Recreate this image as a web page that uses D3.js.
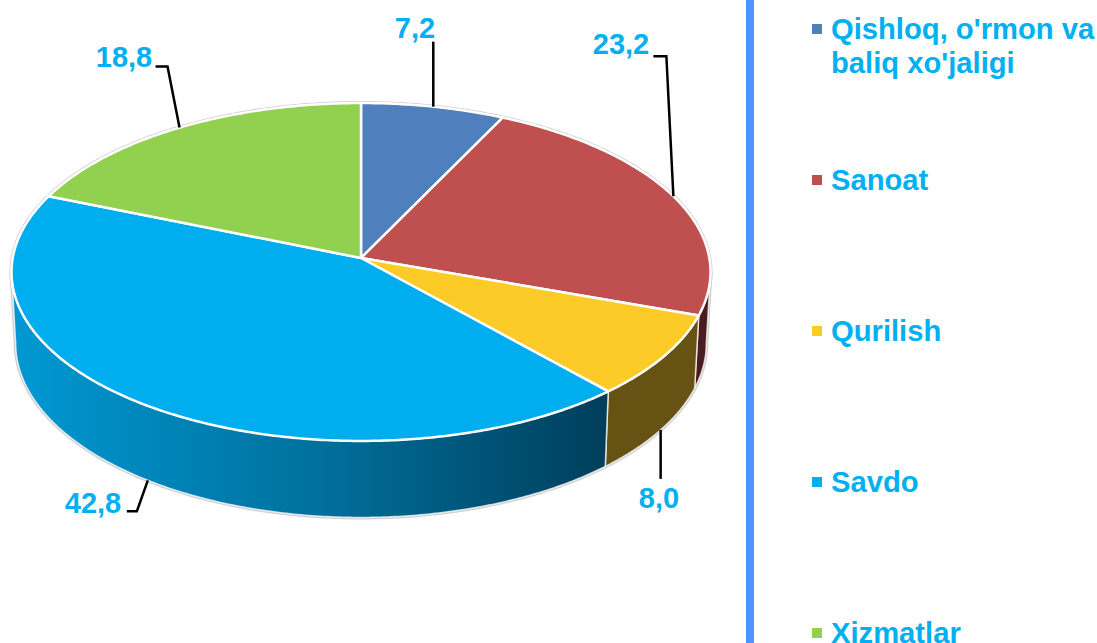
<!DOCTYPE html>
<html>
<head>
<meta charset="utf-8">
<script src="https://cdn.jsdelivr.net/npm/d3@7"></script>
<style>
html, body { margin: 0; padding: 0; background: #fff; overflow: hidden; }
text { font-family: "Liberation Sans", Arial, sans-serif; font-weight: bold; fill: #00b0f0; }
</style>
</head>
<body>
<div id="chart"></div>
<script>
const categories = ["Qishloq, o'rmon va|baliq xo'jaligi", "Sanoat", "Qurilish", "Savdo", "Xizmatlar"]
const values = [7.2, 23.2, 8.0, 42.8, 18.8]
const valueLabels = ["7,2", "23,2", "8,0", "42,8", "18,8"]
const colors = ["#4f7fbc", "#c0504f", "#fdcb27", "#00aeef", "#92d050"]
const sideColors = ["#2c4a6e", "#4a1c20", "#665212", "url(#savdoSide)", "#55782e"]

const width = 1097, height = 643
const svg = d3.select("#chart").append("svg")
    .attr("width", width).attr("height", height)
    .style("display", "block")

// perspective of the disc
const cx = 361, cy = 258, R = 348.3, S = 167.8, k = 0.0828
const depth = 71, lowerX = 0.988, lowerY = 1.03

function upperRim(a) {
    const w = 1 + k * Math.cos(a)
    return [cx + R * Math.sin(a) / w, cy - S * Math.cos(a) / w]
}
function lowerRim(a) {
    const p = upperRim(a)
    return [cx + (p[0] - cx) * lowerX, cy + (p[1] - cy) * lowerY + depth]
}
function arcPoints(fn, a0, a1) {
    const n = Math.max(2, Math.ceil((a1 - a0) / 0.01))
    return d3.range(n + 1).map(i => fn(a0 + (a1 - a0) * i / n))
}

const line = d3.line()
const slices = d3.pie().sort(null).value(d => d)(values)
    .map((d, i) => ({ ...d, i }))

const grad = svg.append("defs").append("linearGradient")
    .attr("id", "savdoSide")
    .attr("gradientUnits", "userSpaceOnUse")
    .attr("x1", 17).attr("x2", 606).attr("y1", 0).attr("y2", 0)
grad.append("stop").attr("offset", 0).attr("stop-color", "#0098d2")
grad.append("stop").attr("offset", 0.5).attr("stop-color", "#00719e")
grad.append("stop").attr("offset", 1).attr("stop-color", "#003f5b")

// only the front of the wall can be seen
const frontStart = Math.acos(-k), frontEnd = 2 * Math.PI - frontStart
const wall = slices
    .map(d => ({ ...d, a0: Math.max(d.startAngle, frontStart), a1: Math.min(d.endAngle, frontEnd) }))
    .filter(d => d.a1 > d.a0)

// grey outline round the whole body
svg.append("path")
    .attr("d", line(arcPoints(upperRim, 0, 2 * Math.PI)) + "Z")
    .attr("fill", "none").attr("stroke", "#cfcfcf").attr("stroke-width", 4)
svg.append("path")
    .attr("d", line(arcPoints(upperRim, frontStart, frontEnd).concat(arcPoints(lowerRim, frontStart, frontEnd).reverse())) + "Z")
    .attr("fill", "#fff").attr("stroke", "#cfcfcf").attr("stroke-width", 4)

svg.selectAll(".wall").data(wall).join("path")
    .attr("class", "wall")
    .attr("d", d => line(arcPoints(upperRim, d.a0, d.a1).concat(arcPoints(lowerRim, d.a0, d.a1).reverse())) + "Z")
    .attr("fill", d => sideColors[d.i])
    .attr("stroke", "#fff").attr("stroke-opacity", 0.75).attr("stroke-width", 1.5)

svg.selectAll(".slice").data(slices).join("path")
    .attr("class", "slice")
    .attr("d", d => line([[cx, cy]].concat(arcPoints(upperRim, d.startAngle, d.endAngle))) + "Z")
    .attr("fill", d => colors[d.i])
    .attr("stroke", "#fff").attr("stroke-width", 2.5).attr("stroke-linejoin", "round")

// leaders start on the rim at the middle of each slice
const leaderBends = [[0, -65], [-7, -140], [0, 49], [-11, 31], [-12, -61]]
const leaderTails = [null, [-13, 0], null, [-10, 0], [-12, 0]]
const labelPos = [[415, 38], [621, 54], [659, 508], [93, 513], [124, 67]]

slices.forEach(d => {
    const mid = (d.startAngle + d.endAngle) / 2
    const start = (d.i === 2 || d.i === 3) ? lowerRim(mid) : upperRim(mid)
    const pts = [start, [start[0] + leaderBends[d.i][0], start[1] + leaderBends[d.i][1]]]
    if (leaderTails[d.i]) pts.push([pts[1][0] + leaderTails[d.i][0], pts[1][1]])
    svg.append("path").attr("d", line(pts))
        .attr("fill", "none").attr("stroke", "#000").attr("stroke-width", 2.5)
    svg.append("text")
        .attr("x", labelPos[d.i][0]).attr("y", labelPos[d.i][1])
        .attr("text-anchor", "middle").attr("font-size", 29)
        .text(valueLabels[d.i])
})

// vertical divider
svg.append("rect").attr("x", 746).attr("y", 0).attr("width", 8).attr("height", height).attr("fill", "#5092ff")

// legend
const legendY = d3.scalePoint().domain(d3.range(categories.length)).range([39, 643])
categories.forEach((c, i) => {
    svg.append("rect")
        .attr("x", 812).attr("y", legendY(i) - 15)
        .attr("width", 10).attr("height", 10)
        .attr("fill", colors[i])
    c.split("|").forEach((t, j) => {
        svg.append("text")
            .attr("x", 831).attr("y", legendY(i) + j * 34)
            .attr("font-size", 29.2)
            .text(t)
    })
})
</script>
</body>
</html>
